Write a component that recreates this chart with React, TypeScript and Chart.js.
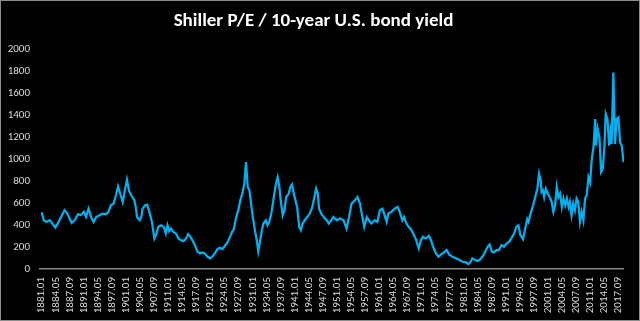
import React, { useEffect, useRef } from "react";
import { Chart, registerables } from "chart.js";

Chart.register(...registerables);

const TITLE = "Shiller P/E / 10-year U.S. bond yield";

const xTickLabels = [
  "1881.01", "1884.05", "1887.09", "1891.01", "1894.05", "1897.09", "1901.01",
  "1904.05", "1907.09", "1911.01", "1914.05", "1917.09", "1921.01", "1924.05",
  "1927.09", "1931.01", "1934.05", "1937.09", "1941.01", "1944.05", "1947.09",
  "1951.01", "1954.05", "1957.09", "1961.01", "1964.05", "1967.09", "1971.01",
  "1974.05", "1977.09", "1981.01", "1984.05", "1987.09", "1991.01", "1994.05",
  "1997.09", "2001.01", "2004.05", "2007.09", "2011.01", "2014.05", "2017.09",
];

const yMin = 0;
const yMax = 2000;
const yStep = 200;

// decimal year of each reading
const years = [
  1881.0, 1881.5, 1882.1, 1882.9, 1883.4, 1884.2, 1884.8, 1885.6, 1886.4, 1887.0,
  1887.6, 1888.1, 1888.8, 1889.6, 1890.3, 1891.0, 1891.5, 1892.1, 1892.7, 1893.3,
  1893.9, 1894.7, 1895.4, 1896.2, 1896.8, 1897.4, 1898.0, 1898.6, 1899.1, 1899.6,
  1900.2, 1900.7, 1901.2, 1901.7, 1902.3, 1902.9, 1903.3, 1903.6, 1904.2, 1904.6,
  1904.9, 1905.5, 1906.0, 1906.5, 1907.1, 1907.7, 1908.2, 1908.6, 1909.3, 1909.9,
  1910.4, 1910.8, 1911.2, 1911.6, 1912.2, 1912.8, 1913.4, 1914.0, 1914.6, 1915.2,
  1915.7, 1916.2, 1916.7, 1917.3, 1917.9, 1918.5, 1919.1, 1919.6, 1920.3, 1920.9,
  1921.4, 1922.0, 1922.6, 1923.2, 1923.8, 1924.4, 1925.0, 1925.6, 1926.1, 1926.5,
  1927.0, 1927.6, 1928.0, 1928.6, 1929.0, 1929.4, 1929.8, 1930.2, 1930.6, 1931.0,
  1931.5, 1932.0, 1932.3, 1932.7, 1933.1, 1933.5, 1934.1, 1934.5, 1934.9, 1935.3,
  1935.7, 1936.1, 1936.5, 1936.9, 1937.3, 1937.7, 1938.1, 1938.5, 1938.9, 1939.5,
  1939.9, 1940.3, 1940.7, 1941.0, 1941.5, 1942.0, 1942.4, 1942.8, 1943.3, 1943.9,
  1944.5, 1945.1, 1945.6, 1946.0, 1946.4, 1946.7, 1947.2, 1947.8, 1948.5, 1949.0,
  1949.6, 1950.1, 1950.9, 1951.7, 1952.5, 1953.2, 1953.8, 1954.4, 1955.2, 1955.8,
  1956.4, 1956.8, 1957.4, 1958.0, 1958.5, 1959.1, 1959.9, 1960.5, 1961.1, 1961.7,
  1962.1, 1962.7, 1963.1, 1963.8, 1964.6, 1965.3, 1965.8, 1966.4, 1966.8, 1967.4,
  1967.9, 1968.6, 1969.2, 1969.7, 1970.3, 1970.8, 1971.3, 1971.9, 1972.5, 1972.7,
  1973.2, 1973.7, 1974.4, 1975.0, 1975.6, 1976.3, 1976.9, 1977.5, 1978.3, 1979.1,
  1979.9, 1980.7, 1981.5, 1982.1, 1982.6, 1983.0, 1983.6, 1984.2, 1984.7, 1985.4,
  1986.0, 1986.6, 1987.1, 1987.6, 1988.1, 1988.7, 1989.3, 1989.9, 1990.5, 1991.1,
  1991.7, 1992.3, 1992.9, 1993.4, 1993.9, 1994.4, 1995.0, 1995.6, 1996.0, 1996.3,
  1996.8, 1997.4, 1998.0, 1998.4, 1998.8, 1999.2, 1999.4, 1999.7, 2000.0, 2000.4,
  2000.9, 2001.5, 2001.8, 2002.2, 2002.6, 2003.0, 2003.4, 2003.8, 2004.2, 2004.6,
  2005.0, 2005.4, 2005.8, 2006.1, 2006.5, 2006.9, 2007.3, 2007.7, 2008.1, 2008.5,
  2008.9, 2009.3, 2009.7, 2010.1, 2010.5, 2010.9, 2011.3, 2011.7, 2012.1, 2012.3,
  2012.7, 2013.1, 2013.5, 2013.9, 2014.3, 2014.6, 2015.0, 2015.4, 2015.7, 2016.0,
  2016.4, 2016.8, 2017.2, 2017.6, 2018.0, 2018.4, 2018.8,
];

// Shiller P/E divided by 10-year bond yield
const peOverYield = [
  515, 443, 428, 443, 419, 377, 413, 473, 534, 509,
  459, 419, 443, 498, 489, 519, 473, 549, 473, 428,
  473, 489, 504, 498, 519, 579, 594, 670, 751, 685,
  609, 715, 812, 709, 661, 630, 560, 470, 443, 473,
  549, 579, 585, 519, 428, 278, 323, 383, 398, 383,
  323, 398, 344, 368, 338, 323, 278, 262, 253, 278,
  317, 292, 262, 217, 157, 142, 151, 142, 111, 97,
  111, 142, 181, 193, 181, 211, 242, 292, 338, 360,
  459, 540, 618, 700, 776, 971, 745, 715, 594, 473,
  353, 247, 160, 247, 338, 413, 443, 398, 428, 489,
  579, 685, 776, 835, 745, 594, 489, 534, 654, 685,
  745, 769, 685, 640, 564, 383, 353, 413, 443, 473,
  504, 564, 654, 730, 685, 549, 504, 473, 443, 413,
  443, 473, 443, 459, 443, 368, 473, 594, 624, 654,
  594, 504, 383, 473, 443, 413, 443, 428, 534, 549,
  504, 428, 504, 519, 549, 564, 519, 443, 473, 413,
  383, 353, 308, 262, 187, 262, 292, 278, 292, 301,
  262, 202, 142, 111, 133, 151, 172, 133, 111, 97,
  81, 66, 61, 43, 66, 97, 81, 72, 81, 111,
  151, 202, 223, 157, 151, 172, 172, 217, 202, 232,
  247, 283, 323, 383, 398, 308, 270, 383, 452, 428,
  504, 579, 670, 730, 866, 805, 700, 715, 654, 730,
  685, 640, 609, 519, 579, 745, 654, 685, 564, 640,
  579, 640, 564, 609, 489, 594, 534, 640, 609, 428,
  519, 443, 640, 670, 835, 790, 1002, 1107, 1364, 1122,
  1273, 1197, 881, 911, 1122, 1409, 1364, 1122, 1243, 1137,
  1786, 1137, 1364, 1378, 1152, 1122, 971,
];

const FONT = "Carlito, Lato, 'Open Sans', sans-serif";

function labelToYear(label: string): number {
  const [y, m] = label.split(".");
  return Number(y) + (Number(m) - 1) / 12;
}

export default function App() {
  const canvasRef = useRef<HTMLCanvasElement | null>(null);

  useEffect(() => {
    const canvas = canvasRef.current;
    if (!canvas) return;
    const tickValues = xTickLabels.map(labelToYear);
    const chart = new Chart(canvas, {
      type: "line",
      data: {
        datasets: [
          {
            data: years.map((x, i) => ({ x, y: peOverYield[i] })),
            borderColor: "#00b0f0",
            borderWidth: 2.25,
            pointRadius: 0,
            tension: 0,
            fill: false,
          },
        ],
      },
      options: {
        animation: false,
        responsive: false,
        devicePixelRatio: 1,
        layout: { padding: { left: 0, right: 13, top: 0, bottom: 0 } },
        plugins: {
          legend: { display: false },
          tooltip: { enabled: false },
          title: {
            display: true,
            text: TITLE,
            color: "#ffffff",
            font: { family: FONT, size: 19, weight: "bold" },
            padding: { top: 10, bottom: 16.2 },
          },
        },
        scales: {
          x: {
            type: "linear",
            min: 1880.6,
            max: 2018.9,
            grid: { display: false, drawTicks: false },
            border: { display: true, color: "#868686", width: 1.5 },
            afterBuildTicks: (axis: any) => {
              axis.ticks = tickValues.map((v) => ({ value: v }));
            },
            afterFit: (axis: any) => {
              axis.height = 52;
            },
            ticks: {
              autoSkip: false,
              maxRotation: 90,
              minRotation: 90,
              padding: 8,
              color: "#d9d9d9",
              font: { family: FONT, size: 11 },
              callback: (_v: any, i: number) => xTickLabels[i],
            },
          },
          y: {
            min: yMin,
            max: yMax,
            grid: { display: false, drawTicks: false },
            border: { display: false },
            afterFit: (axis: any) => {
              axis.width = 40;
            },
            ticks: {
              stepSize: yStep,
              padding: 10,
              color: "#d9d9d9",
              font: { family: FONT, size: 11 },
              callback: (v: any) => String(v),
            },
          },
        },
      },
    });
    return () => chart.destroy();
  }, []);

  return (
    <div
      style={{
        position: "fixed",
        left: 0,
        top: 0,
        width: 640,
        height: 321,
        background: "#000000",
      }}
    >
      <canvas ref={canvasRef} width={640} height={321} style={{ display: "block" }} />
      <div
        style={{
          position: "absolute",
          inset: 0,
          border: "1px solid #8c8c8c",
          boxSizing: "border-box",
          pointerEvents: "none",
        }}
      />
    </div>
  );
}
